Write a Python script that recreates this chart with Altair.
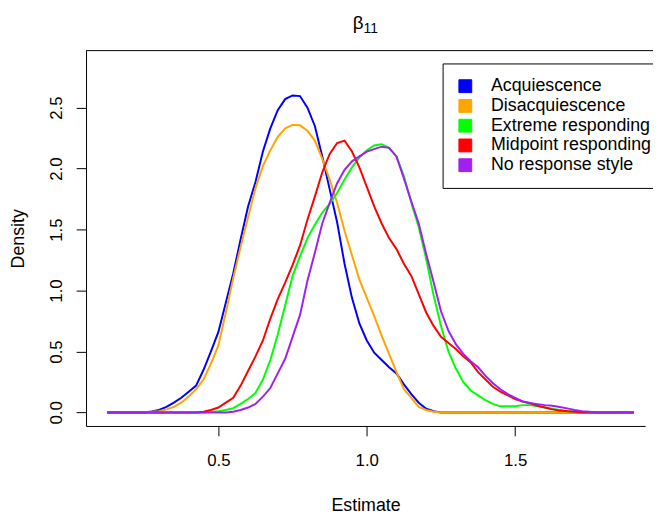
import altair as alt
import pandas as pd

x_grid = [0.125, 0.15, 0.175, 0.2, 0.225, 0.25, 0.275, 0.3, 0.325, 0.35, 0.375, 0.4,
          0.425, 0.45, 0.475, 0.5, 0.525, 0.55, 0.575, 0.6, 0.625, 0.65, 0.675, 0.7,
          0.725, 0.75, 0.775, 0.8, 0.825, 0.85, 0.875, 0.9, 0.925, 0.95, 0.975, 1.0,
          1.025, 1.05, 1.075, 1.1, 1.125, 1.15, 1.175, 1.2, 1.225, 1.25, 1.275, 1.3,
          1.325, 1.35, 1.375, 1.4, 1.425, 1.45, 1.475, 1.5, 1.525, 1.55, 1.575, 1.6,
          1.625, 1.65, 1.675, 1.7, 1.725, 1.75, 1.775, 1.8, 1.825, 1.85, 1.875, 1.9]

acquiescence = [0, 0, 0, 0, 0, 0, 0.008, 0.02, 0.045, 0.08, 0.12, 0.17,
                0.22, 0.35, 0.50, 0.66, 0.90, 1.14, 1.42, 1.69, 1.89, 2.14, 2.33, 2.48,
                2.57, 2.60, 2.595, 2.50, 2.35, 2.10, 1.83, 1.56, 1.22, 0.94, 0.73, 0.59,
                0.49, 0.43, 0.37, 0.32, 0.23, 0.15, 0.08, 0.03, 0.01, 0, 0, 0,
                0, 0, 0, 0, 0, 0, 0, 0, 0, 0, 0, 0,
                0, 0, 0, 0, 0, 0, 0, 0, 0, 0, 0, 0]

disacquiescence = [0, 0, 0, 0, 0, 0, 0.005, 0.01, 0.025, 0.045, 0.08, 0.13,
                   0.19, 0.27, 0.40, 0.55, 0.82, 1.10, 1.36, 1.60, 1.84, 2.02, 2.15, 2.26,
                   2.33, 2.358, 2.355, 2.31, 2.23, 2.08, 1.91, 1.72, 1.49, 1.29, 1.09, 0.94,
                   0.79, 0.63, 0.48, 0.33, 0.19, 0.12, 0.045, 0.02, 0.005, 0, 0, 0,
                   0, 0, 0, 0, 0, 0, 0, 0, 0, 0, 0, 0,
                   0, 0, 0, 0, 0, 0, 0, 0, 0, 0, 0, 0]

extreme = [0, 0, 0, 0, 0, 0, 0, 0, 0, 0, 0, 0,
           0, 0, 0.003, 0.01, 0.02, 0.035, 0.07, 0.11, 0.16, 0.27, 0.43, 0.64,
           0.88, 1.12, 1.28, 1.43, 1.54, 1.64, 1.71, 1.80, 1.91, 2.01, 2.09, 2.15,
           2.19, 2.20, 2.17, 2.10, 1.94, 1.72, 1.52, 1.26, 0.96, 0.71, 0.50, 0.36,
           0.25, 0.18, 0.14, 0.10, 0.07, 0.05, 0.05, 0.05, 0.06, 0.06, 0.05, 0.04,
           0.03, 0.02, 0.01, 0.005, 0, 0, 0, 0, 0, 0, 0, 0]

midpoint = [0, 0, 0, 0, 0, 0, 0, 0, 0, 0, 0, 0,
            0, 0.005, 0.02, 0.04, 0.08, 0.12, 0.22, 0.34, 0.46, 0.59, 0.77, 0.93,
            1.065, 1.21, 1.37, 1.58, 1.77, 1.97, 2.12, 2.21, 2.23, 2.14, 2.01, 1.85,
            1.69, 1.55, 1.43, 1.34, 1.22, 1.12, 0.97, 0.82, 0.71, 0.62, 0.57, 0.52,
            0.46, 0.41, 0.33, 0.27, 0.21, 0.17, 0.14, 0.11, 0.09, 0.075, 0.055, 0.04,
            0.025, 0.015, 0.01, 0.005, 0, 0, 0, 0, 0, 0, 0, 0]

no_style = [0, 0, 0, 0, 0, 0, 0, 0, 0, 0, 0, 0,
            0, 0, 0, 0, 0, 0.005, 0.02, 0.04, 0.07, 0.13, 0.20, 0.32,
            0.44, 0.62, 0.80, 1.08, 1.31, 1.55, 1.72, 1.88, 1.99, 2.06, 2.10, 2.14,
            2.16, 2.18, 2.17, 2.10, 1.92, 1.73, 1.55, 1.30, 1.07, 0.83, 0.67, 0.56,
            0.48, 0.42, 0.37, 0.30, 0.24, 0.19, 0.15, 0.12, 0.09, 0.077, 0.068, 0.06,
            0.055, 0.045, 0.033, 0.02, 0.01, 0.005, 0, 0, 0, 0, 0, 0]

series_names = ["Acquiescence", "Disacquiescence", "Extreme responding",
                "Midpoint responding", "No response style"]
series_colors = ["#0000FF", "#FFA500", "#00FF00", "#FF0000", "#A020F0"]
series_values = [acquiescence, disacquiescence, extreme, midpoint, no_style]

x_ticks = [0.5, 1.0, 1.5]
y_ticks = [0.0, 0.5, 1.0, 1.5, 2.0, 2.5]

title_main = "β"
title_sub = "11"

rows = []
for name, vals in zip(series_names, series_values):
    for xv, yv in zip(x_grid, vals):
        rows.append({"Estimate": xv, "Density": yv, "series": name})
df = pd.DataFrame(rows)

FONT = "Liberation Sans"
W, H = 566, 380

x_enc = alt.X("Estimate:Q",
              scale=alt.Scale(domain=[0.0541, 1.9376], nice=False, zero=False),
              axis=alt.Axis(values=x_ticks, format=".1f", grid=False, tickSize=10,
                            tickColor="black", domainColor="black", domainWidth=1,
                            labelFont=FONT, labelFontSize=17, labelColor="black",
                            labelPadding=17, title="Estimate", titleFont=FONT,
                            titleFontSize=18, titleFontWeight="normal",
                            titleColor="black", titlePadding=29))
y_enc = alt.Y("Density:Q",
              scale=alt.Scale(domain=[-0.111, 2.968], nice=False, zero=False),
              axis=alt.Axis(values=y_ticks, format=".1f", grid=False, tickSize=10,
                            tickColor="black", domainColor="black", domainWidth=1,
                            labelFont=FONT, labelFontSize=17, labelColor="black",
                            labelAngle=-90, labelAlign="center",
                            labelBaseline="alphabetic", labelPadding=15,
                            title="Density", titleFont=FONT, titleFontSize=18,
                            titleFontWeight="normal", titleColor="black",
                            titlePadding=20))
legend = alt.Legend(title=None, orient="none", legendX=361, legendY=13,
                    symbolType="square", symbolSize=169,
                    symbolStrokeWidth=1, symbolOpacity=1,
                    labelFont=FONT, labelFontSize=18, labelColor="black",
                    labelOffset=17, labelLimit=400, rowPadding=2, padding=14,
                    strokeColor="black", fillColor="white", cornerRadius=0)

# legend-only layer: black-outlined squares filled with the series colours
keys = alt.Chart(df).mark_point(shape="square", filled=False, size=0,
                                 stroke="black", strokeWidth=1,
                                 opacity=1).encode(
    x=x_enc, y=y_enc,
    fill=alt.Fill("series:N",
                  scale=alt.Scale(domain=series_names, range=series_colors),
                  legend=legend),
)

lines = alt.Chart(df).mark_line(strokeWidth=2, clip=True).encode(
    x=x_enc, y=y_enc,
    color=alt.Color("series:N",
                    scale=alt.Scale(domain=series_names, range=series_colors),
                    legend=None),
)

top_border = alt.Chart(pd.DataFrame({"k": [0]})).mark_rule(
    color="black", strokeWidth=1
).encode(x=alt.value(0), x2=alt.value(W + 20), y=alt.value(0))

title_beta = alt.Chart(pd.DataFrame({"t": [title_main]})).mark_text(
    font=FONT, fontSize=19, color="black", align="right", baseline="alphabetic"
).encode(text="t:N", x=alt.value(281), y=alt.value(-22))

title_index = alt.Chart(pd.DataFrame({"t": [title_sub]})).mark_text(
    font=FONT, fontSize=14, color="black", align="left", baseline="alphabetic"
).encode(text="t:N", x=alt.value(281), y=alt.value(-18))

chart = alt.layer(keys, lines, top_border, title_beta, title_index).properties(
    width=W, height=H,
    padding={"left": 79, "top": 40, "right": 8, "bottom": 87},
    autosize=alt.AutoSizeParams(type="none"),
).configure_view(stroke=None)

chart.save("out.html", embed_options={"renderer": "svg", "actions": False})
